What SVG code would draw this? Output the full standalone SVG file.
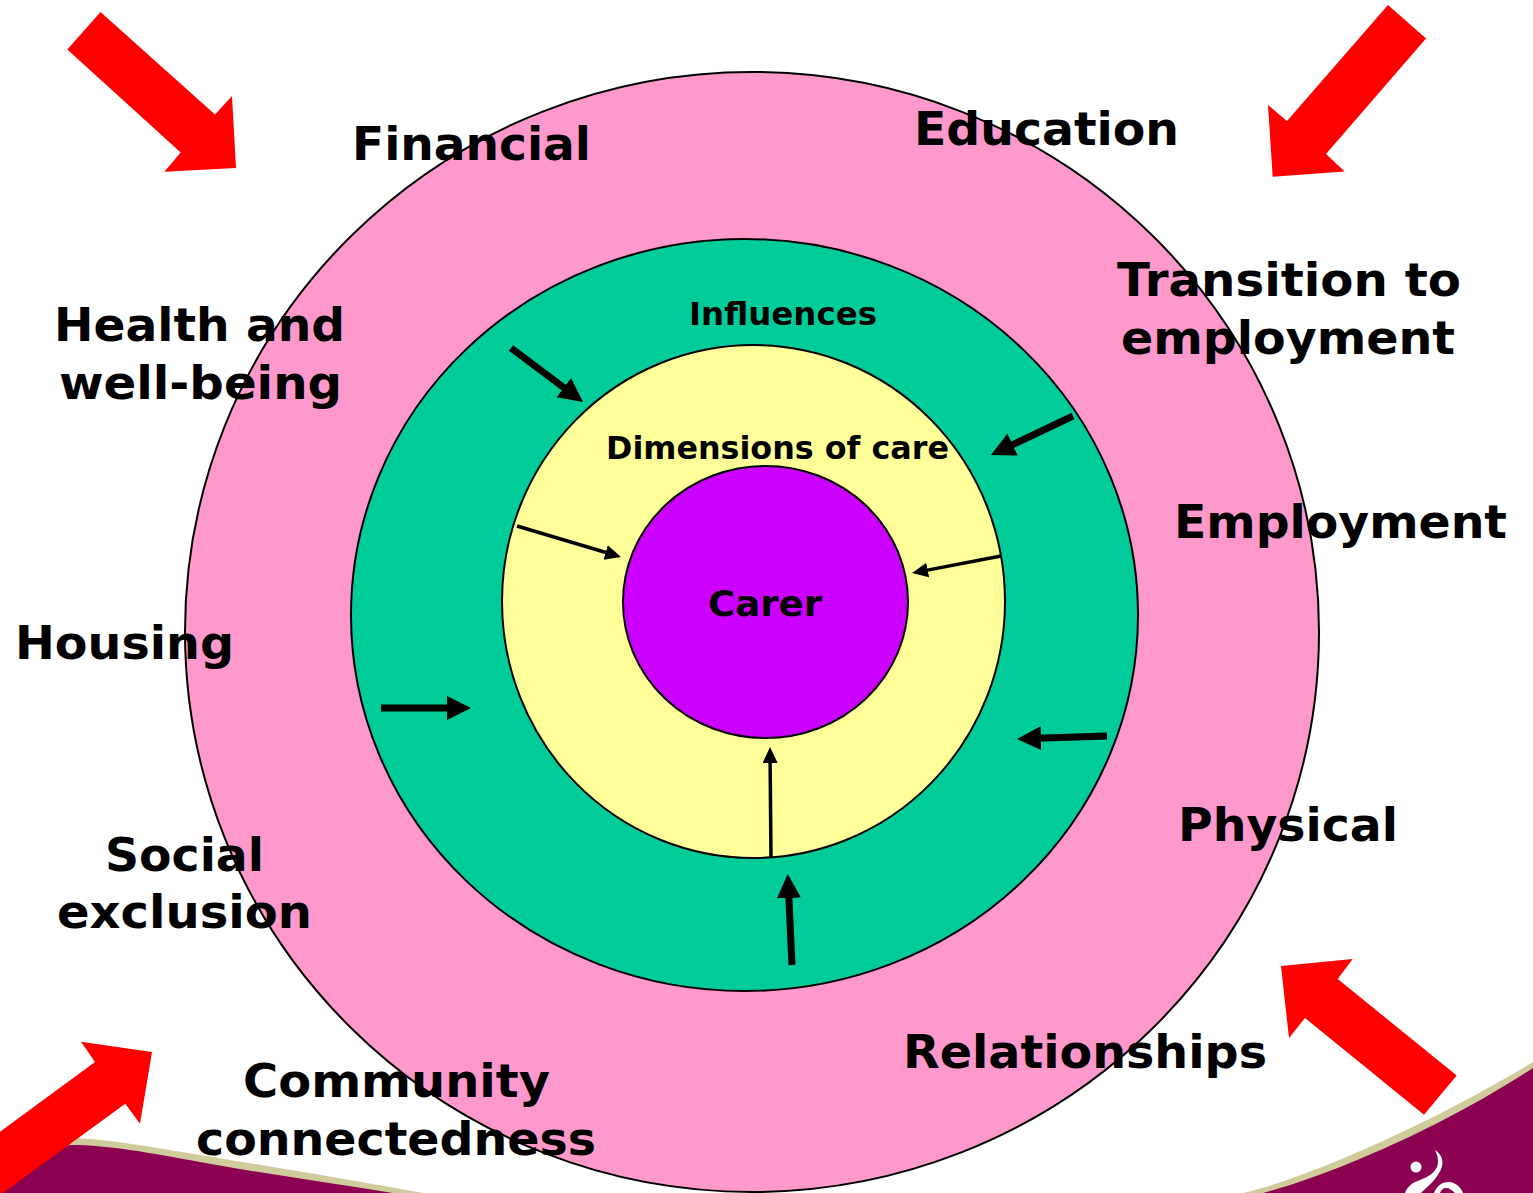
<svg xmlns="http://www.w3.org/2000/svg" width="1533" height="1193" viewBox="0 0 1533 1193">
<style>
text{font-family:"DejaVu Sans","Verdana",sans-serif;font-weight:bold;fill:#000}
.b{font-size:46px}.m{font-size:32px}.c{font-size:36px}
.ring{stroke:#000;stroke-width:2}
.red{fill:#f00}
.t{stroke:#000;stroke-width:7;fill:none}
.n{stroke:#000;stroke-width:3.5;fill:none}
</style>
<defs>
<marker id="h" markerUnits="userSpaceOnUse" markerWidth="26" markerHeight="26" refX="4" refY="12" orient="auto"><path d="M0,0L24,12L0,24Z"/></marker>
<marker id="s" markerUnits="userSpaceOnUse" markerWidth="18" markerHeight="16" refX="3" refY="7.5" orient="auto"><path d="M0,0L16,7.5L0,15Z"/></marker>
</defs>
<rect width="1533" height="1193" fill="#fff"/>
<g id="banner">
<path d="M0,1193V1150L70,1138C110,1139 150,1147 200,1155C280,1168 350,1180 423,1193Z" fill="#cfcb9a"/>
<path d="M0,1193V1155L70,1145C110,1145 150,1153 200,1162C265,1174 330,1183 393,1193Z" fill="#8b0051"/>
<path d="M1243,1193C1300,1180 1420,1130 1533,1062V1193Z" fill="#cfcb9a"/>
<path d="M1263,1193C1320,1178 1430,1135 1533,1068V1193Z" fill="#8b0051"/>
<g fill="#fff"><circle cx="1416" cy="1167" r="5.5"/><path d="M1435,1150C1438,1156 1439,1162 1437,1167C1433,1176 1422,1179 1413,1183C1409,1186 1406,1189 1405,1193H1421C1426,1188 1434,1182 1439,1173C1445,1164 1443,1155 1435,1150Z"/><path d="M1434,1193C1437,1185 1443,1182 1449,1182C1455,1182 1461,1187 1463,1193H1455C1452,1190 1449,1188 1446,1188C1443,1188 1441,1190 1440,1193Z"/></g>
</g>
<g id="outer-ring"><ellipse class="ring" cx="752" cy="632" rx="567" ry="560" fill="#ff99cc"/></g>
<g id="influences-ring"><ellipse class="ring" cx="744.5" cy="615" rx="393.5" ry="376" fill="#00cc99"/><text class="m" x="689" y="325" textLength="188" lengthAdjust="spacingAndGlyphs">Influences</text></g>
<g id="dimensions-ring"><ellipse class="ring" cx="753.5" cy="601.5" rx="251.5" ry="256.5" fill="#ffff99"/><text class="m" x="606" y="459" textLength="343" lengthAdjust="spacingAndGlyphs">Dimensions of care</text></g>
<g id="carer"><ellipse class="ring" cx="765.5" cy="602" rx="142.5" ry="136" fill="#cc00ff"/><text class="c" x="708" y="616" textLength="114" lengthAdjust="spacingAndGlyphs">Carer</text></g>
<g id="connectors">
<path class="t" d="M511,348L567,390" marker-end="url(#h)"/>
<path class="t" d="M1073,416L1009,446.4" marker-end="url(#h)"/>
<path class="t" d="M381,708L451,708" marker-end="url(#h)"/>
<path class="t" d="M1107,736L1037,738.3" marker-end="url(#h)"/>
<path class="t" d="M792,965L788.7,894" marker-end="url(#h)"/>
<path class="n" d="M517,526L608.5,553.3" marker-end="url(#s)"/>
<path class="n" d="M1001,556L924.8,570.6" marker-end="url(#s)"/>
<path class="n" d="M771,858L770.1,760" marker-end="url(#s)"/>
</g>
<g id="red-arrows">
<path class="red" d="M100.5,12L215,114.5L232,96L236,168L164.3,171.7L180.7,152.5L67.3,49.5Z"/>
<path class="red" d="M1388,5L1426,38.5L1326,154L1344.7,171.5L1272.7,176.7L1268,105L1287,121Z"/>
<path class="red" d="M1456.7,1075.5L1424,1114.7L1305,1018L1289,1038L1281,966L1352.7,959L1337.7,979Z"/>
<path class="red" d="M0,1131.7L95,1062L81,1041.7L152,1052L140,1123.7L125.3,1103.7L0,1195Z"/>
</g>
<g id="labels">
<text class="b" x="352" y="160" textLength="239" lengthAdjust="spacingAndGlyphs">Financial</text>
<text class="b" x="914" y="145" textLength="265" lengthAdjust="spacingAndGlyphs">Education</text>
<text class="b" x="1117" y="296" textLength="344" lengthAdjust="spacingAndGlyphs">Transition to</text>
<text class="b" x="1121" y="354" textLength="334" lengthAdjust="spacingAndGlyphs">employment</text>
<text class="b" x="1174" y="538" textLength="333" lengthAdjust="spacingAndGlyphs">Employment</text>
<text class="b" x="1178" y="841" textLength="220" lengthAdjust="spacingAndGlyphs">Physical</text>
<text class="b" x="903" y="1068" textLength="364" lengthAdjust="spacingAndGlyphs">Relationships</text>
<text class="b" x="243" y="1097" textLength="307" lengthAdjust="spacingAndGlyphs">Community</text>
<text class="b" x="196" y="1155" textLength="400" lengthAdjust="spacingAndGlyphs">connectedness</text>
<text class="b" x="105" y="871" textLength="159" lengthAdjust="spacingAndGlyphs">Social</text>
<text class="b" x="57" y="928" textLength="255" lengthAdjust="spacingAndGlyphs">exclusion</text>
<text class="b" x="15" y="659" textLength="219" lengthAdjust="spacingAndGlyphs">Housing</text>
<text class="b" x="54" y="341" textLength="291" lengthAdjust="spacingAndGlyphs">Health and</text>
<text class="b" x="59" y="399" textLength="283" lengthAdjust="spacingAndGlyphs">well-being</text>
</g>
</svg>
